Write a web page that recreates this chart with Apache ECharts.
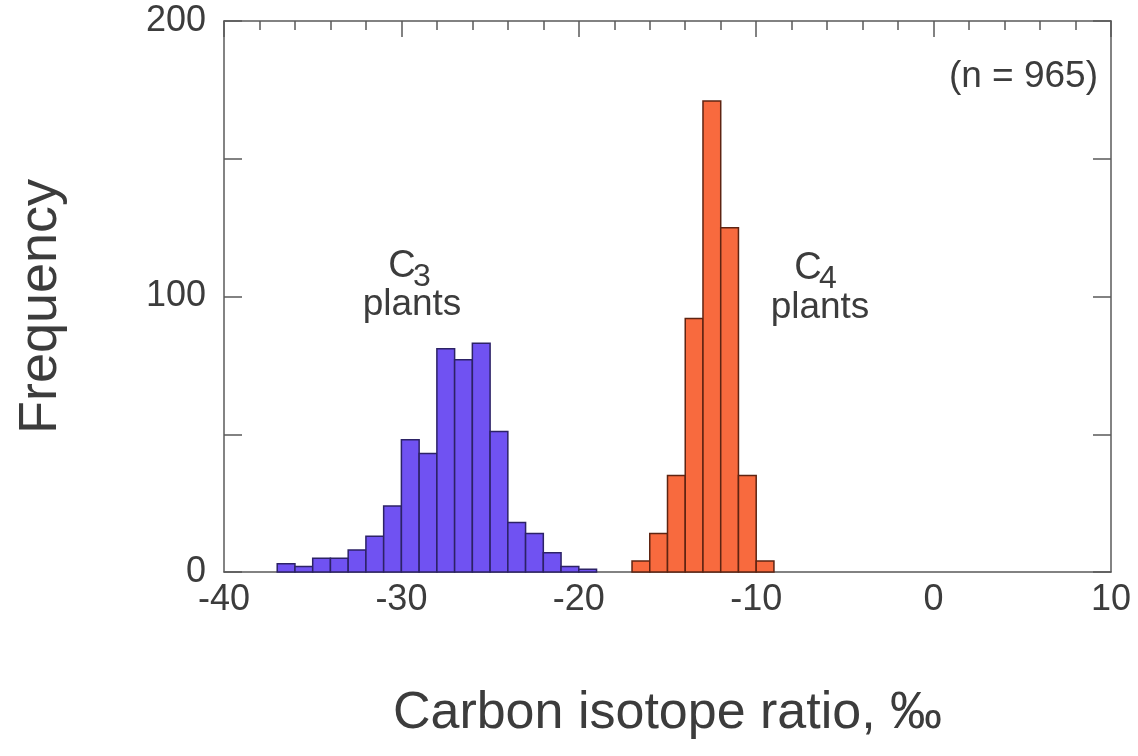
<!DOCTYPE html>
<html>
<head>
<meta charset="utf-8">
<script src="https://cdn.jsdelivr.net/npm/echarts@6/dist/echarts.min.js"></script>
<style>
  html, body { margin: 0; padding: 0; background: #fff; }
  #chart { width: 1138px; height: 756px; }
</style>
</head>
<body>
<div id="chart"></div>
<script>
// bin left edges (1 permil wide) and counts
const c3Left = [-37, -36, -35, -34, -33, -32, -31, -30, -29, -28, -27, -26, -25, -24, -23, -22, -21, -20]
const c3Counts = [3, 2, 5, 5, 8, 13, 24, 48, 43, 81, 77, 83, 51, 18, 14, 7, 2, 1]
const c4Left = [-17, -16, -15, -14, -13, -12, -11, -10]
const c4Counts = [4, 14, 35, 92, 171, 125, 35, 4]
const xTicks = [-40, -30, -20, -10, 0, 10]
const yTicks = [0, 100, 200]
const binWidth = 1

const font = '"Liberation Sans", Helvetica, Arial, sans-serif'
const ink = '#3c3c3c'
const lineCol = '#5a5a5a'
const frame = { onZero: false, lineStyle: { color: lineCol, width: 1.5 } }
const tick = { show: true, inside: true, length: 18, lineStyle: { color: lineCol, width: 1.5 } }

function bins(left, counts) {
  return left.map((l, i) => [l, l + binWidth, counts[i]])
}

function renderBar(fill, stroke) {
  return function (params, api) {
    const p0 = api.coord([api.value(0), api.value(2)])
    const p1 = api.coord([api.value(1), 0])
    return {
      type: 'rect',
      shape: { x: p0[0], y: p0[1], width: p1[0] - p0[0], height: p1[1] - p0[1] },
      style: { fill: fill, stroke: stroke, lineWidth: 1.5 }
    }
  }
}

function label(text, x, y, size) {
  return { type: 'text', x: x, y: y,
    style: { text: text, font: size + 'px ' + font, fill: ink, align: 'center', verticalAlign: 'top' } }
}

const chart = echarts.init(document.getElementById('chart'))
chart.setOption({
  animation: false,
  backgroundColor: '#fff',
  textStyle: { fontFamily: font },
  grid: { left: 224, right: 27, top: 21, bottom: 184 },
  xAxis: [
    { type: 'value', position: 'bottom', min: -40, max: 10, interval: 10,
      name: 'Carbon isotope ratio, ‰', nameLocation: 'middle', nameGap: 116,
      nameTextStyle: { fontSize: 52, color: ink, fontFamily: font },
      axisLine: frame, axisTick: { show: false }, splitLine: { show: false },
      axisLabel: { fontSize: 36, color: ink, margin: 10, fontFamily: font,
        formatter: v => xTicks.includes(v) ? String(v) : '' } },
    { type: 'value', position: 'top', min: -40, max: 10, interval: 10,
      axisLine: frame, axisLabel: { show: false }, splitLine: { show: false },
      axisTick: { show: true, inside: true, length: 16, lineStyle: { color: lineCol, width: 1.5 } },
      minorTick: { show: true, splitNumber: 5, length: 9, lineStyle: { color: lineCol, width: 1.5 } } }
  ],
  yAxis: [
    { type: 'value', position: 'left', min: 0, max: 200, interval: 50,
      name: 'Frequency', nameLocation: 'middle', nameGap: 156,
      nameTextStyle: { fontSize: 54, color: ink, fontFamily: font, padding: [0, 20, 0, 0] },
      axisLine: frame, splitLine: { show: false }, axisTick: tick,
      axisLabel: { fontSize: 36, color: ink, margin: 18, fontFamily: font,
        formatter: v => yTicks.includes(v) ? String(v) : '' } },
    { type: 'value', position: 'right', min: 0, max: 200, interval: 50,
      axisLine: frame, splitLine: { show: false }, axisLabel: { show: false }, axisTick: tick }
  ],
  graphic: [
    { type: 'text', right: 40, top: 58,
      style: { text: '(n = 965)', font: '37px ' + font, fill: ink } },
    label('C', 402, 248, 38),
    label('3', 422, 261, 32),
    label('plants', 412, 286, 37),
    label('C', 808, 250, 38),
    label('4', 828, 263, 32),
    label('plants', 820, 289, 37)
  ],
  series: [
    { name: 'C3 plants', type: 'custom', xAxisIndex: 0, yAxisIndex: 0,
      renderItem: renderBar('#7052f2', '#2c2266'), encode: { x: [0, 1], y: 2 },
      data: bins(c3Left, c3Counts) },
    { name: 'C4 plants', type: 'custom', xAxisIndex: 0, yAxisIndex: 0,
      renderItem: renderBar('#f86a3e', '#5e2412'), encode: { x: [0, 1], y: 2 },
      data: bins(c4Left, c4Counts) }
  ]
})
window.addEventListener('resize', () => chart.resize())
</script>
</body>
</html>
